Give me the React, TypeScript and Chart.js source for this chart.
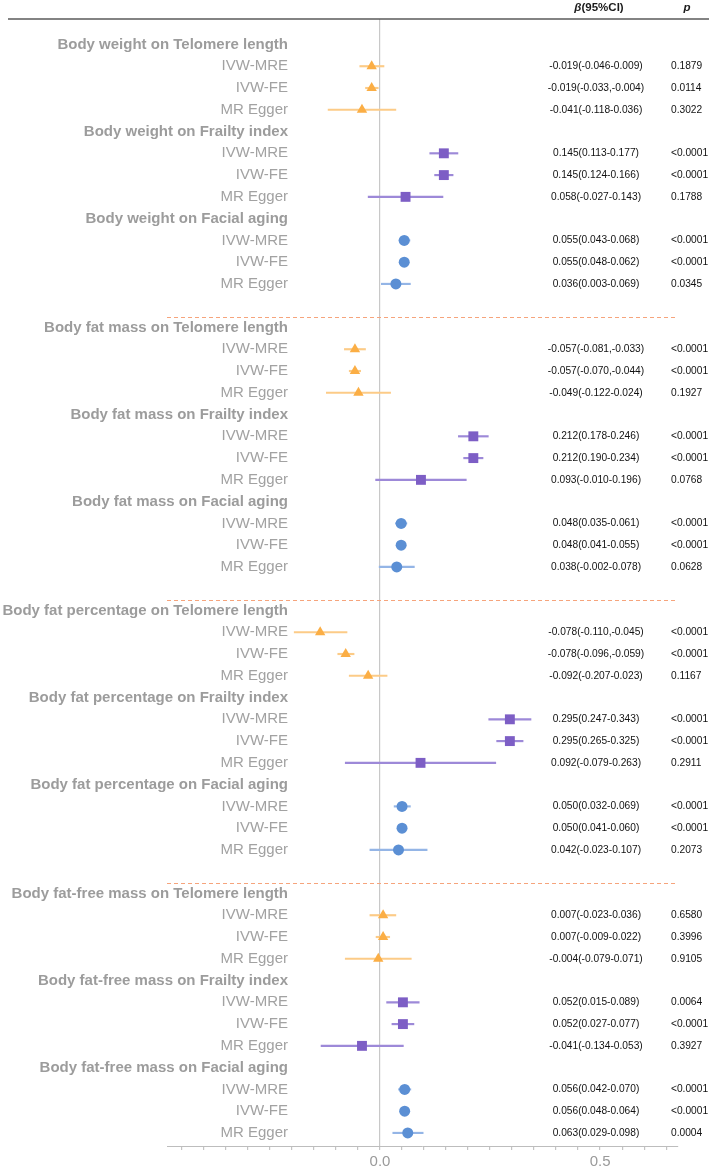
import React, { useEffect, useRef } from "react";
import { Chart, registerables } from "chart.js";
Chart.register(...registerables);

const exposures = ["Body weight", "Body fat mass", "Body fat percentage", "Body fat-free mass"];
const outcomes = ["Telomere length", "Frailty index", "Facial aging"];
const methods = ["IVW-MRE", "IVW-FE", "MR Egger"];

const ciLabels = [
  "-0.019(-0.046-0.009)", "-0.019(-0.033,-0.004)", "-0.041(-0.118-0.036)",
  "0.145(0.113-0.177)", "0.145(0.124-0.166)", "0.058(-0.027-0.143)",
  "0.055(0.043-0.068)", "0.055(0.048-0.062)", "0.036(0.003-0.069)",
  "-0.057(-0.081,-0.033)", "-0.057(-0.070,-0.044)", "-0.049(-0.122-0.024)",
  "0.212(0.178-0.246)", "0.212(0.190-0.234)", "0.093(-0.010-0.196)",
  "0.048(0.035-0.061)", "0.048(0.041-0.055)", "0.038(-0.002-0.078)",
  "-0.078(-0.110,-0.045)", "-0.078(-0.096,-0.059)", "-0.092(-0.207-0.023)",
  "0.295(0.247-0.343)", "0.295(0.265-0.325)", "0.092(-0.079-0.263)",
  "0.050(0.032-0.069)", "0.050(0.041-0.060)", "0.042(-0.023-0.107)",
  "0.007(-0.023-0.036)", "0.007(-0.009-0.022)", "-0.004(-0.079-0.071)",
  "0.052(0.015-0.089)", "0.052(0.027-0.077)", "-0.041(-0.134-0.053)",
  "0.056(0.042-0.070)", "0.056(0.048-0.064)", "0.063(0.029-0.098)",
];

const pLabels = [
  "0.1879", "0.0114", "0.3022",
  "<0.0001", "<0.0001", "0.1788",
  "<0.0001", "<0.0001", "0.0345",
  "<0.0001", "<0.0001", "0.1927",
  "<0.0001", "<0.0001", "0.0768",
  "<0.0001", "<0.0001", "0.0628",
  "<0.0001", "<0.0001", "0.1167",
  "<0.0001", "<0.0001", "0.2911",
  "<0.0001", "<0.0001", "0.2073",
  "0.6580", "0.3996", "0.9105",
  "0.0064", "<0.0001", "0.3927",
  "<0.0001", "<0.0001", "0.0004",
];

// plotted marker positions (as drawn in the picture)
const pointBeta = [
  -0.019, -0.019, -0.041,
  0.145, 0.145, 0.058,
  0.055, 0.055, 0.036,
  -0.057, -0.057, -0.049,
  0.212, 0.212, 0.093,
  0.048, 0.048, 0.038,
  -0.136, -0.078, -0.027,
  0.295, 0.295, 0.092,
  0.050, 0.050, 0.042,
  0.007, 0.007, -0.004,
  0.052, 0.052, -0.041,
  0.056, 0.056, 0.063,
];
const pointLower = [
  -0.046, -0.033, -0.118,
  0.113, 0.124, -0.027,
  0.043, 0.048, 0.003,
  -0.081, -0.070, -0.122,
  0.178, 0.190, -0.010,
  0.035, 0.041, -0.002,
  -0.195, -0.096, -0.070,
  0.247, 0.265, -0.079,
  0.032, 0.041, -0.023,
  -0.023, -0.009, -0.079,
  0.015, 0.027, -0.134,
  0.042, 0.048, 0.029,
];
const pointUpper = [
  0.009, -0.004, 0.036,
  0.177, 0.166, 0.143,
  0.068, 0.062, 0.069,
  -0.033, -0.044, 0.024,
  0.246, 0.234, 0.196,
  0.061, 0.055, 0.078,
  -0.075, -0.059, 0.016,
  0.343, 0.325, 0.263,
  0.069, 0.060, 0.107,
  0.036, 0.022, 0.071,
  0.089, 0.077, 0.053,
  0.070, 0.064, 0.098,
];

const xTickValues = [0, 0.5];
const xTickLabels = ["0.0", "0.5"];

const markerStyles = ["triangle", "rect", "circle"];
const markerColors = ["#FBAE45", "#7D5EC5", "#5B8FD4"];
const ciColors = ["#FCCB87", "#9D89D8", "#94B5E6"];
const markerRadii = [6, 7, 5.5];

const FONT = "'Liberation Sans', Arial, Helvetica, sans-serif";

const headerRow = (s: number) => Math.floor(s / 3) * 13 + (s % 3) * 4;
const methodRow = (i: number) => headerRow(Math.floor(i / 3)) + 1 + (i % 3);
const outcomeOf = (i: number) => Math.floor(i / 3) % 3;
const separatorRows = [12.5, 25.5, 38.5];

export default function App() {
  const ref = useRef<HTMLCanvasElement | null>(null);

  useEffect(() => {
    document.body.style.margin = "0";
    const canvas = ref.current;
    if (!canvas) return;

    const idx = pointBeta.map((_, i) => i);

    const barData = idx.map((i) => ({ x: [pointLower[i], pointUpper[i]], y: methodRow(i) }));
    const markerSets = [0, 1, 2].map((o) => ({
      type: "scatter" as const,
      data: idx.filter((i) => outcomeOf(i) === o).map((i) => ({ x: pointBeta[i], y: methodRow(i) })),
      pointStyle: markerStyles[o],
      pointRadius: markerRadii[o],
      pointHoverRadius: markerRadii[o],
      backgroundColor: markerColors[o],
      borderColor: markerColors[o],
      borderWidth: 0,
      order: 0,
    }));

    const textPlugin = {
      id: "forestText",
      beforeDatasetsDraw(chart: any) {
        const { ctx, chartArea, scales } = chart;
        const y = scales.y;
        ctx.save();
        ctx.strokeStyle = "#F6A47C";
        ctx.lineWidth = 1;
        ctx.setLineDash([4, 3]);
        separatorRows.forEach((r) => {
          const py = Math.round(y.getPixelForValue(r)) + 0.5;
          ctx.beginPath();
          ctx.moveTo(chartArea.left, py);
          ctx.lineTo(chartArea.right, py);
          ctx.stroke();
        });
        ctx.restore();
      },
      afterDraw(chart: any) {
        const { ctx, chartArea, scales } = chart;
        const y = scales.y;
        ctx.save();
        // top rule
        ctx.strokeStyle = "#5a5a5a";
        ctx.lineWidth = 1.6;
        ctx.beginPath();
        ctx.moveTo(8, chartArea.top);
        ctx.lineTo(709, chartArea.top);
        ctx.stroke();

        // column headers
        ctx.fillStyle = "#1a1a1a";
        ctx.textBaseline = "middle";
        const hy = chartArea.top - 11;
        ctx.font = `italic bold 11.5px ${FONT}`;
        const bW = ctx.measureText("β").width;
        ctx.font = `bold 11.5px ${FONT}`;
        const restW = ctx.measureText("(95%CI)").width;
        const cx = 599;
        const startX = cx - (bW + restW) / 2;
        ctx.textAlign = "left";
        ctx.font = `italic bold 11.5px ${FONT}`;
        ctx.fillText("β", startX, hy);
        ctx.font = `bold 11.5px ${FONT}`;
        ctx.fillText("(95%CI)", startX + bW, hy);
        ctx.font = `italic bold 11.5px ${FONT}`;
        ctx.textAlign = "center";
        ctx.fillText("p", 687, hy);

        // left labels
        ctx.textAlign = "right";
        for (let s = 0; s < 12; s++) {
          const e = Math.floor(s / 3);
          const o = s % 3;
          ctx.font = `bold 15px ${FONT}`;
          ctx.fillStyle = "#9c9c9c";
          ctx.fillText(`${exposures[e]} on ${outcomes[o]}`, 288, y.getPixelForValue(headerRow(s)));
        }
        ctx.font = `15px ${FONT}`;
        ctx.fillStyle = "#a2a2a2";
        idx.forEach((i) => {
          ctx.fillText(methods[i % 3], 288, y.getPixelForValue(methodRow(i)));
        });

        // right columns
        ctx.font = `10.2px ${FONT}`;
        ctx.fillStyle = "#111111";
        idx.forEach((i) => {
          const py = y.getPixelForValue(methodRow(i));
          ctx.textAlign = "center";
          ctx.fillText(ciLabels[i], 596, py);
          ctx.textAlign = "left";
          ctx.fillText(pLabels[i], 671, py);
        });
        ctx.restore();
      },
    };

    const chart = new Chart(canvas, {
      type: "scatter",
      data: {
        datasets: [
          {
            type: "bar" as const,
            indexAxis: "y",
            data: barData as any,
            backgroundColor: (c: any) => ciColors[outcomeOf(c.dataIndex)],
            barThickness: 1.5,
            grouped: false,
            borderWidth: 0,
            borderSkipped: false,
            order: 1,
          } as any,
          ...markerSets,
        ],
      },
      options: {
        responsive: false,
        animation: false,
        layout: { padding: { left: 167, right: 31, top: 19, bottom: 0 } },
        plugins: { legend: { display: false }, tooltip: { enabled: false } },
        scales: {
          x: {
            type: "linear",
            offset: false,
            min: -0.484,
            max: 0.677,
            afterFit: (scale: any) => {
              scale.height = 23;
            },
            ticks: {
              stepSize: 0.05,
              includeBounds: false,
              autoSkip: false,
              maxRotation: 0,
              padding: 3,
              color: "#9a9a9a",
              font: { family: FONT, size: 15 },
              callback: (v: any) => {
                const k = xTickValues.findIndex((t) => Math.abs(t - Number(v)) < 1e-6);
                return k >= 0 ? xTickLabels[k] : "";
              },
            },
            grid: {
              offset: false,
              color: (c: any) => (c.tick && Math.abs(c.tick.value) < 1e-6 ? "#c8c8c8" : "rgba(0,0,0,0)"),
              lineWidth: 1.2,
              tickColor: "#c4c4c4",
              tickLength: 4,
            },
            border: { color: "#bdbdbd", width: 1 },
          },
          y: {
            type: "linear",
            offset: false,
            grid: { offset: false },
            reverse: true,
            min: -1.17,
            max: 50.6,
            display: false,
          },
        },
      } as any,
      plugins: [textPlugin],
    });

    return () => chart.destroy();
  }, []);

  return (
    <div style={{ width: 709, height: 1169 }}>
      <canvas ref={ref} width={709} height={1169} style={{ display: "block" }} />
    </div>
  );
}
